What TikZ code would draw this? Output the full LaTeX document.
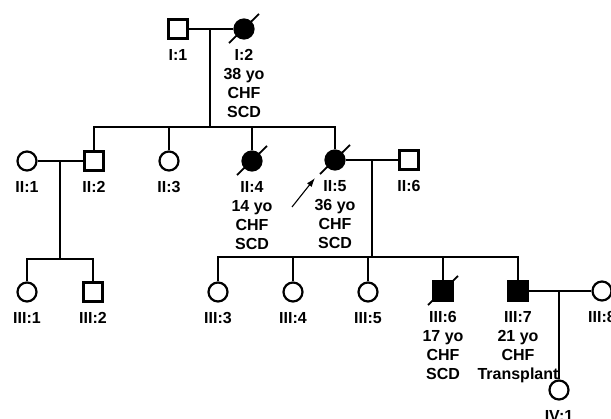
\documentclass[tikz,border=0pt]{standalone}
\usepackage{fontspec}
\setmainfont{Liberation Sans}
\usepackage{tikz}
\usetikzlibrary{arrows.meta,positioning,calc}

\newcommand{\deadmark}[1]{\draw[slash] ($(#1)+(-15,14)$) -- ($(#1)+(15,-15)$);}

\begin{document}
\begin{tikzpicture}[x=1pt,y=-1pt,line width=1.6pt,
  male/.style={draw,rectangle,minimum size=19pt,inner sep=0pt,line width=2.2pt},
  female/.style={draw,circle,minimum size=19pt,inner sep=0pt,line width=2.2pt},
  aff/.style={fill=black},
  slash/.style={line width=1.8pt},
  idlbl/.style={font=\fontsize{16}{19}\selectfont\bfseries,align=center,inner sep=0pt}]
\useasboundingbox (0,0) rectangle (611,419);

% generation I
\node[male] (i1) at (178,29) {};
\node[female,aff] (i2) at (244,29) {};
\node[idlbl,below=9pt of i1] (i1l) {I:1};
\node[idlbl,below=9pt of i2] (i2l) {I:2\\38 yo\\CHF\\SCD};
\deadmark{i2}
\coordinate (m1) at (210,29);
\coordinate (s1) at (210,127);
\draw (i1) -- (i2);
\draw (m1) -- (s1);

% generation II
\node[female] (ii1) at (27,161) {};
\node[male] (ii2) at (94,161) {};
\node[female] (ii3) at (169,161) {};
\node[female,aff] (ii4) at (252,161) {};
\node[female,aff] (ii5) at (335,160) {};
\node[male] (ii6) at (409,160) {};
\node[idlbl,below=9pt of ii1] (ii1l) {II:1};
\node[idlbl,below=9pt of ii2] (ii2l) {II:2};
\node[idlbl,below=9pt of ii3] (ii3l) {II:3};
\node[idlbl,below=9pt of ii4] (ii4l) {II:4\\14 yo\\CHF\\SCD};
\node[idlbl,below=9pt of ii5] (ii5l) {II:5\\36 yo\\CHF\\SCD};
\node[idlbl,below=9pt of ii6] (ii6l) {II:6};
\deadmark{ii4}
\deadmark{ii5}
\draw (ii2.north) |- (s1) -| (ii5.north);
\draw (ii3.north) -- (ii3.north |- s1);
\draw (ii4.north) -- (ii4.north |- s1);
% proband
\coordinate (prb) at (292,207);
\coordinate (prbtip) at (315,178);
\draw[-{Latex[length=9pt,width=6pt]},line width=1.1pt] (prb) -- (prbtip);

\coordinate (m2) at (60,161);
\coordinate (s2) at (60,259);
\draw (ii1) -- (ii2);
\draw (m2) -- (s2);
\coordinate (m3) at (372,160);
\coordinate (s3) at (372,257);
\draw (ii5) -- (ii6);
\draw (m3) -- (s3);

% generation III
\node[female] (iii1) at (27,292) {};
\node[male] (iii2) at (93,292) {};
\node[female] (iii3) at (218,292) {};
\node[female] (iii4) at (293,292) {};
\node[female] (iii5) at (368,292) {};
\node[male,aff] (iii6) at (443,291) {};
\node[male,aff] (iii7) at (518,291) {};
\node[female] (iii8) at (602,291) {};
\node[idlbl,below=9pt of iii1] (iii1l) {III:1};
\node[idlbl,below=9pt of iii2] (iii2l) {III:2};
\node[idlbl,below=9pt of iii3] (iii3l) {III:3};
\node[idlbl,below=9pt of iii4] (iii4l) {III:4};
\node[idlbl,below=9pt of iii5] (iii5l) {III:5};
\node[idlbl,below=9pt of iii6] (iii6l) {III:6\\17 yo\\CHF\\SCD};
\node[idlbl,below=9pt of iii7] (iii7l) {III:7\\21 yo\\CHF\\Transplant};
\node[idlbl,below=9pt of iii8] (iii8l) {III:8};
\deadmark{iii6}
\draw (iii1.north) |- (s2) -| (iii2.north);
\draw (iii3.north) |- (s3) -| (iii7.north);
\draw (iii4.north) -- (iii4.north |- s3);
\draw (iii5.north) -- (iii5.north |- s3);
\draw (iii6.north) -- (iii6.north |- s3);

\coordinate (m4) at (559,291);
\draw (iii7) -- (iii8);

% generation IV
\node[female] (iv1) at (559,390) {};
\node[idlbl,below=9pt of iv1] (iv1l) {IV:1};
\draw (m4) -- (iv1);
\end{tikzpicture}
\end{document}
